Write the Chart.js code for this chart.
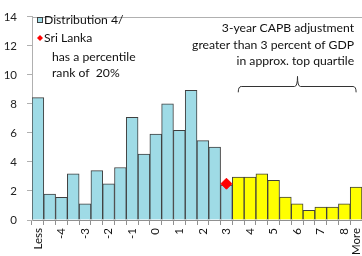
<!DOCTYPE html>
<html><head><meta charset="utf-8">
<script src="https://cdn.jsdelivr.net/npm/chart.js@4.4.0/dist/chart.umd.min.js"></script>
<style>html,body{margin:0;padding:0;background:#fff;}#wrap{width:362px;height:256px;position:relative;}</style>
</head><body><div id="wrap"><canvas id="c"></canvas></div>
<script>
// ---- data ----
const categories = ['Less','-4.5','-4','-3.5','-3','-2.5','-2','-1.5','-1','-0.5','0','0.5','1','1.5','2','2.5','3','3.5','4','4.5','5','5.5','6','6.5','7','7.5','8','More'];
const distribution = [8.44,1.78,1.56,3.18,1.11,3.4,2.49,3.62,7.07,4.55,5.93,8.0,6.18,8.93,5.47,5.02,2.4,2.95,2.95,3.18,2.73,1.58,1.11,0.67,0.89,0.89,1.11,2.27];
const countryName = 'Sri Lanka';
const countryCategory = '3';
const countryValue = 2.5;
const yTicks = [0,2,4,6,8,10,12,14];
const threshold = 3; // categories above this are in the top quartile
const legendLines = ['Distribution 4/', 'Sri Lanka', 'has a percentile', 'rank of  20%'];
const noteLines = ['3-year CAPB adjustment', 'greater than 3 percent of GDP', 'in approx. top quartile'];

const FONT = 'Lato, "Open Sans", sans-serif';
const BLUE = '#9fdbe6', YELLOW = '#ffff00', EDGE = '#3f3f3f';
const isTop = c => c === 'More' || (c !== 'Less' && parseFloat(c) > threshold);
const barColors = categories.map(c => isTop(c) ? YELLOW : BLUE);
const countryData = categories.map(c => c === countryCategory ? countryValue : null);

const overlay = {
  id: 'overlay',
  afterDraw(chart) {
    const {ctx, chartArea: a, scales: {x, y}} = chart;
    ctx.save();
    // plot top border
    ctx.strokeStyle = '#b0b0b0'; ctx.lineWidth = 1;
    ctx.beginPath(); ctx.moveTo(a.left, Math.round(a.top) + 0.5); ctx.lineTo(a.right, Math.round(a.top) + 0.5); ctx.stroke();
    // legend
    ctx.font = '12.2px ' + FONT; ctx.fillStyle = '#111'; ctx.textBaseline = 'middle'; ctx.textAlign = 'left';
    const lx = a.left;
    ctx.fillStyle = BLUE; ctx.strokeStyle = EDGE;
    ctx.fillRect(lx + 5.5, 17.5, 5, 5); ctx.strokeRect(lx + 5.5, 17.5, 5, 5);
    ctx.fillStyle = '#111';
    ctx.fillText(legendLines[0], lx + 12, 20.5);
    ctx.fillStyle = '#ff0000';
    ctx.beginPath(); ctx.moveTo(lx + 8, 35); ctx.lineTo(lx + 11, 38); ctx.lineTo(lx + 8, 41); ctx.lineTo(lx + 5, 38); ctx.closePath(); ctx.fill();
    ctx.fillStyle = '#111';
    ctx.fillText(legendLines[1], lx + 12, 38.5);
    ctx.fillText(legendLines[2], lx + 20, 57.5);
    ctx.fillText(legendLines[3], lx + 20, 73.5);
    // note text
    const x0 = x.getPixelForValue(categories.indexOf('3.5'));
    const x1 = x.getPixelForValue(categories.length - 1);
    ctx.textAlign = 'right';
    const ty = y.getPixelForValue(13.2);
    noteLines.forEach((t, i) => ctx.fillText(t, x1 - 2, ty + i * 16.3));
    // brace
    const yb = Math.round(y.getPixelForValue(9.27)) + 0.5;
    const ye = y.getPixelForValue(8.8);
    const yt = y.getPixelForValue(9.9);
    const xm = Math.round((x0 + x1) / 2) + 0.5;
    ctx.strokeStyle = '#333'; ctx.lineWidth = 1;
    ctx.beginPath();
    ctx.moveTo(x0, ye);
    ctx.quadraticCurveTo(x0, yb, x0 + 3, yb);
    ctx.lineTo(xm - 3, yb);
    ctx.quadraticCurveTo(xm, yb, xm, yt);
    ctx.quadraticCurveTo(xm, yb, xm + 3, yb);
    ctx.lineTo(x1 - 3, yb);
    ctx.quadraticCurveTo(x1, yb, x1, ye);
    ctx.stroke();
    ctx.restore();
  }
};

new Chart(document.getElementById('c'), {
  data: {
    labels: categories,
    datasets: [
      { type: 'line', label: countryName, data: countryData, showLine: false,
        pointStyle: 'rectRot', pointRadius: 5.5, pointBackgroundColor: '#ff0000', pointBorderColor: '#ff0000', order: 0 },
      { type: 'bar', label: 'Distribution 4/', data: distribution, backgroundColor: barColors,
        borderColor: EDGE, borderWidth: 1, categoryPercentage: 1, barPercentage: 1, order: 1 }
    ]
  },
  options: {
    responsive: true, maintainAspectRatio: false, animation: false,
    layout: { autoPadding: false, padding: { left: 0, right: 0, top: 10, bottom: 0 } },
    plugins: { legend: { display: false }, tooltip: { enabled: false } },
    scales: {
      x: {
        offset: true,
        afterFit: s => { s.height = 36; s.paddingRight = 0; s.paddingLeft = 0; },
        grid: { offset: true, drawOnChartArea: false, color: '#909090', tickLength: 5 },
        border: { color: '#909090' },
        ticks: { autoSkip: false, minRotation: 90, maxRotation: 90, padding: 3, color: '#111',
          font: { family: FONT, size: 11.5 },
          callback: (v, i) => (i % 2 === 0 || i === categories.length - 1) ? categories[i] : '' }
      },
      y: {
        min: 0, max: 14,
        afterBuildTicks: s => { s.ticks = yTicks.map(v => ({ value: v })); },
        afterFit: s => { s.width = 32; },
        grid: { drawOnChartArea: false, color: '#b0b0b0', tickLength: 5 },
        border: { color: '#b0b0b0' },
        ticks: { padding: 10, color: '#222', font: { family: FONT, size: 11.5 } }
      }
    }
  },
  plugins: [overlay]
});
</script></body></html>
